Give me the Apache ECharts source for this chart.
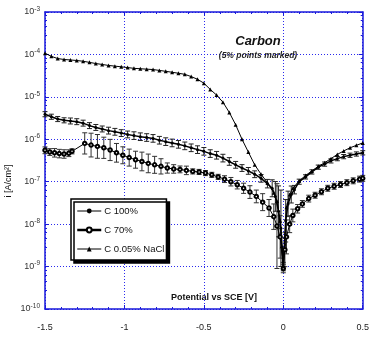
<!DOCTYPE html>
<html>
<head>
<meta charset="utf-8">
<script src="https://cdn.jsdelivr.net/npm/echarts@6/dist/echarts.min.js"></script>
<style>
html,body{margin:0;padding:0;background:#fff;}
#c{width:372px;height:340px;}
</style>
</head>
<body>
<div id="c"></div>
<script>
// ---- data (potential in V, current density in A/cm^2) ----
var vNaCl = [-1.50,-1.46,-1.42,-1.38,-1.34,-1.30,-1.26,-1.22,-1.18,-1.14,-1.10,-1.06,-1.02,-0.98,-0.94,-0.90,-0.86,-0.82,-0.78,-0.74,-0.70,-0.66,-0.62,-0.58,-0.54,-0.50,-0.46,-0.42,-0.38,-0.34,-0.30,-0.26,-0.22,-0.18,-0.14,-0.10,-0.06,-0.04,-0.02,-0.01,0.00,0.01,0.02,0.04,0.06,0.10,0.14,0.18,0.22,0.26,0.30,0.34,0.38,0.42,0.46,0.50];
var iNaCl = [1.07e-4,9.0e-5,8.0e-5,7.6e-5,7.4e-5,7.2e-5,6.9e-5,6.5e-5,6.1e-5,5.8e-5,5.5e-5,5.3e-5,5.1e-5,4.9e-5,4.7e-5,4.6e-5,4.5e-5,4.4e-5,4.2e-5,4.0e-5,3.8e-5,3.6e-5,3.4e-5,3.0e-5,2.6e-5,2.1e-5,1.5e-5,1.1e-5,7.5e-6,4.3e-6,2.2e-6,1.0e-6,5.0e-7,2.5e-7,1.5e-7,9.5e-8,5.5e-8,3.5e-8,1.2e-8,3e-9,1e-9,5e-9,2.5e-8,5e-8,7e-8,1.05e-7,1.4e-7,1.8e-7,2.3e-7,2.8e-7,3.5e-7,4.4e-7,5.3e-7,6.3e-7,7.2e-7,8.2e-7];

var v100 = [-1.50,-1.46,-1.42,-1.38,-1.34,-1.30,-1.26,-1.22,-1.18,-1.14,-1.10,-1.06,-1.02,-0.98,-0.94,-0.90,-0.86,-0.82,-0.78,-0.74,-0.70,-0.66,-0.62,-0.58,-0.54,-0.50,-0.46,-0.42,-0.38,-0.34,-0.30,-0.26,-0.22,-0.18,-0.14,-0.10,-0.07,-0.05,-0.03,-0.015,0.00,0.015,0.03,0.05,0.07,0.10,0.14,0.18,0.22,0.26,0.30,0.34,0.38,0.42,0.46,0.50];
var i100 = [3.9e-6,3.4e-6,3.0e-6,2.8e-6,2.7e-6,2.6e-6,2.4e-6,2.1e-6,1.9e-6,1.75e-6,1.6e-6,1.5e-6,1.4e-6,1.3e-6,1.22e-6,1.15e-6,1.1e-6,1.05e-6,9.5e-7,8.8e-7,8.2e-7,7.6e-7,7.0e-7,6.3e-7,5.7e-7,5.2e-7,4.6e-7,4.2e-7,3.6e-7,3.0e-7,2.5e-7,2.1e-7,1.8e-7,1.5e-7,1.2e-7,9.0e-8,7.0e-8,4.5e-8,2.0e-8,8e-9,1.0e-9,1.2e-8,3.0e-8,5.0e-8,6.5e-8,1.0e-7,1.3e-7,1.7e-7,2.2e-7,2.6e-7,3.1e-7,3.5e-7,3.9e-7,4.2e-7,4.5e-7,4.8e-7];
// error half-width, in decades
var e100 = [0.06,0.06,0.06,0.06,0.07,0.07,0.07,0.07,0.07,0.07,0.08,0.08,0.08,0.08,0.09,0.09,0.09,0.09,0.09,0.09,0.09,0.09,0.09,0.09,0.09,0.09,0.09,0.09,0.09,0.09,0.08,0.08,0.08,0.08,0.09,0.1,0.2,0.35,0.6,0.9,0.1,0.5,0.3,0.2,0.1,0.06,0.05,0.05,0.05,0.05,0.05,0.05,0.05,0.05,0.05,0.05];

var v70 = [-1.50,-1.47,-1.44,-1.41,-1.38,-1.35,-1.33,-1.25,-1.21,-1.17,-1.13,-1.09,-1.05,-1.01,-0.97,-0.93,-0.89,-0.85,-0.81,-0.77,-0.73,-0.69,-0.65,-0.61,-0.57,-0.53,-0.49,-0.45,-0.41,-0.37,-0.33,-0.29,-0.25,-0.21,-0.17,-0.13,-0.09,-0.06,-0.04,-0.02,0.00,0.01,0.02,0.04,0.06,0.09,0.12,0.16,0.20,0.24,0.28,0.32,0.36,0.40,0.44,0.48,0.50];
var i70 = [5.5e-7,5.0e-7,4.8e-7,4.6e-7,4.5e-7,4.7e-7,5.2e-7,8.0e-7,7.3e-7,6.8e-7,6.3e-7,5.6e-7,4.8e-7,4.2e-7,3.7e-7,3.3e-7,3.0e-7,2.7e-7,2.5e-7,2.3e-7,2.1e-7,2.0e-7,1.95e-7,1.85e-7,1.75e-7,1.7e-7,1.6e-7,1.45e-7,1.3e-7,1.15e-7,1.0e-7,8.5e-8,7.0e-8,5.7e-8,4.5e-8,3.3e-8,2.4e-8,1.5e-8,9e-9,5e-9,9e-10,2.5e-9,5e-9,1.0e-8,1.6e-8,2.3e-8,3.0e-8,4.0e-8,4.8e-8,5.8e-8,7.0e-8,7.8e-8,8.6e-8,9.5e-8,1.05e-7,1.15e-7,1.2e-7];
var e70 = [0.08,0.08,0.1,0.1,0.1,0.08,0.06,0.25,0.28,0.28,0.25,0.25,0.22,0.2,0.2,0.2,0.22,0.22,0.2,0.18,0.12,0.1,0.08,0.1,0.06,0.06,0.06,0.06,0.06,0.08,0.1,0.1,0.12,0.15,0.15,0.2,0.2,0.3,1.0,0.5,0.1,0.4,0.4,0.2,0.15,0.1,0.08,0.08,0.07,0.07,0.07,0.07,0.07,0.07,0.07,0.07,0.07];

var xTicks = [-1.5,-1,-0.5,0,0.5];
var seriesNames = ['C 100%','C 70%','C 0.05% NaCl'];

function pairs(v, i){ return v.map(function(x,k){ return [x, i[k]]; }); }
function errs(v, i, e){ return v.map(function(x,k){ var f=Math.pow(10,e[k]); return [x, i[k]/f, i[k]*f]; }); }

function errRender(color){
  return function(params, api){
    var x = api.value(0);
    var p1 = api.coord([x, api.value(1)]);
    var p2 = api.coord([x, api.value(2)]);
    var w = 2.5;
    var st = {stroke: color, lineWidth: 1};
    return {type:'group', children:[
      {type:'line', shape:{x1:p1[0],y1:p1[1],x2:p2[0],y2:p2[1]}, style:st},
      {type:'line', shape:{x1:p1[0]-w,y1:p1[1],x2:p1[0]+w,y2:p1[1]}, style:st},
      {type:'line', shape:{x1:p2[0]-w,y1:p2[1],x2:p2[0]+w,y2:p2[1]}, style:st}
    ]};
  };
}

var FONT = 'Liberation Sans, Arial, sans-serif';
var BLUE = '#1a1adb';
var chart = echarts.init(document.getElementById('c'), null, {renderer:'canvas'});

function supLabel(val){
  var e = Math.round(Math.log(val)/Math.LN10);
  return '{b|10}{s|' + e + '}';
}

var option = {
  animation:false,
  backgroundColor:'#fff',
  title:{
    text:'Carbon', subtext:'(5% points marked)',
    left:253, top:30, textAlign:'center', itemGap:3,
    textStyle:{fontFamily:FONT, fontSize:13, fontWeight:'bold', fontStyle:'italic', color:'#111'},
    subtextStyle:{fontFamily:FONT, fontSize:8.5, fontWeight:'bold', fontStyle:'italic', color:'#222'}
  },
  legend:{
    orient:'vertical', left:71, top:199, padding:[7,2,6,5],
    itemWidth:24, itemHeight:6, itemGap:9,
    backgroundColor:'#fff', borderColor:'#000', borderWidth:1.5,
    shadowColor:'#000', shadowBlur:0, shadowOffsetX:3, shadowOffsetY:3,
    textStyle:{fontFamily:FONT, fontSize:9.5, color:'#111', padding:[0,0,0,-2]},
    data:[
      {name:'C 100%', lineStyle:{width:1}},
      {name:'C 70%', lineStyle:{width:2.5}},
      {name:'C 0.05% NaCl', lineStyle:{width:1}}
    ]
  },
  grid:{left:45, top:12, right:7, bottom:31},
  xAxis:[{
    type:'value', min:-1.5, max:0.5, interval:0.5,
    axisLine:{show:true, onZero:false, lineStyle:{color:BLUE, width:1.5}},
    axisTick:{show:true, inside:true, length:4, lineStyle:{color:BLUE}},
    minorTick:{show:true, splitNumber:5, length:2, lineStyle:{color:BLUE}},
    axisLabel:{fontFamily:FONT, fontSize:9, color:'#222', margin:14,
      formatter:function(v){ return String(v); }},
    splitLine:{show:true, lineStyle:{color:'#2a2aee', type:[1,2], width:1}}
  },{
    type:'value', position:'top', min:-1.5, max:0.5, interval:0.5,
    axisLine:{show:true, onZero:false, lineStyle:{color:BLUE, width:1.5}},
    axisTick:{show:true, inside:true, length:4, lineStyle:{color:BLUE}},
    minorTick:{show:true, splitNumber:5, length:2, lineStyle:{color:BLUE}},
    axisLabel:{show:false}, splitLine:{show:false}
  }],
  yAxis:[{
    type:'log', logBase:10, min:1e-10, max:1e-3, interval:1,
    axisLine:{show:true, onZero:false, lineStyle:{color:BLUE, width:1.5}},
    axisTick:{show:true, inside:true, length:4, lineStyle:{color:BLUE}},
    minorTick:{show:true, splitNumber:5, length:2, lineStyle:{color:BLUE}},
    axisLabel:{margin:5, formatter:supLabel,
      rich:{b:{fontFamily:FONT, fontSize:9, color:'#333'}, s:{fontFamily:FONT, fontSize:6.5, color:'#333', verticalAlign:'top', padding:[0,0,6,0]}}},
    splitLine:{show:true, lineStyle:{color:'#2a2aee', type:[1,2], width:1}}
  },{
    type:'log', logBase:10, min:1e-10, max:1e-3, interval:1, position:'right',
    axisLine:{show:true, onZero:false, lineStyle:{color:BLUE, width:1.5}},
    axisTick:{show:true, inside:true, length:4, lineStyle:{color:BLUE}},
    minorTick:{show:true, splitNumber:5, length:2, lineStyle:{color:BLUE}},
    axisLabel:{show:false}, splitLine:{show:false}
  }],
  graphic:[
    {type:'text', x:9, y:181, rotation:Math.PI/2,
      style:{text:'i [A/cm\u00B2]', fontFamily:FONT, fontSize:9, fill:'#111', align:'center', verticalAlign:'middle'}},
    {type:'text', x:214, y:298,
      style:{text:'Potential vs SCE [V]', fontFamily:FONT, fontSize:9, fontWeight:'bold', fill:'#111', align:'center', verticalAlign:'middle'}}
  ],
  series:[
    {name:'C 100% err', type:'custom', renderItem:errRender('#222'), data:errs(v100,i100,e100), z:2, silent:true},
    {name:'C 70% err', type:'custom', renderItem:errRender('#333'), data:errs(v70,i70,e70), z:2, silent:true},
    {name:'C 100%', type:'line', data:pairs(v100,i100), symbol:'circle', symbolSize:3,
      lineStyle:{color:'#000', width:1.5}, itemStyle:{color:'#000'}, z:3},
    {name:'C 70%', type:'line', data:pairs(v70,i70), symbol:'emptyCircle', symbolSize:3.5,
      lineStyle:{color:'#000', width:1}, itemStyle:{color:'#000', borderColor:'#000', borderWidth:1}, z:3},
    {name:'C 0.05% NaCl', type:'line', data:pairs(vNaCl,iNaCl), symbol:'triangle', symbolSize:4,
      lineStyle:{color:'#000', width:1}, itemStyle:{color:'#000'}, z:3}
  ]
};
chart.setOption(option);
</script>
</body>
</html>
